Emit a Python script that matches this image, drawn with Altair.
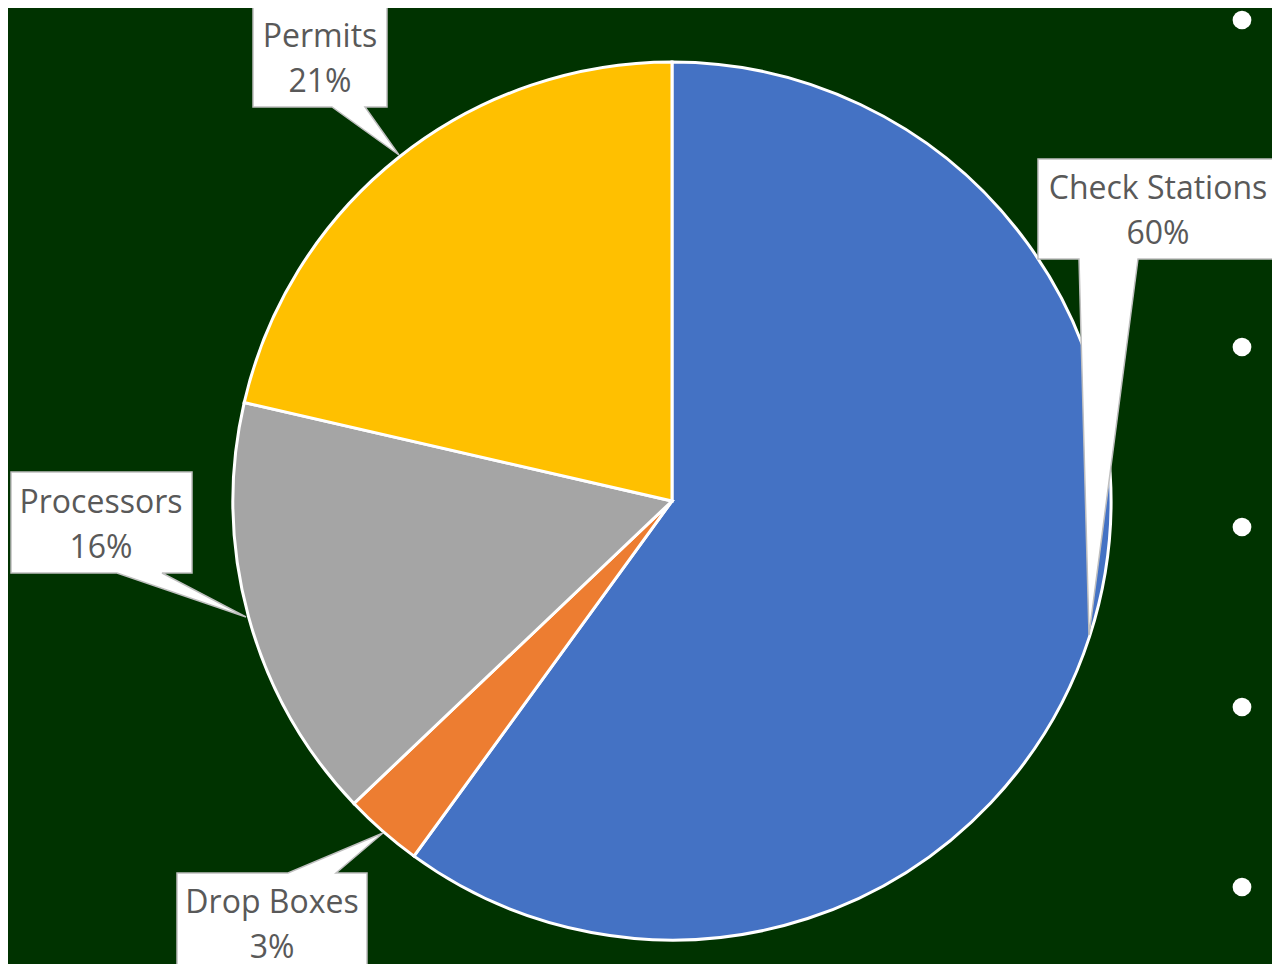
import altair as alt
import pandas as pd

# ---- data ----
categories = ["Check Stations", "Drop Boxes", "Processors", "Permits"]
values = [60.0, 2.9, 15.7, 21.4]
colors = ["#4472C4", "#ED7D31", "#A5A5A5", "#FFC000"]

# ---- layout (page pixel coordinates, chart starts at 8px page margin) ----
OFF = 8
W, H = 1264, 956
CX, CY, R = 672, 501, 439

# label anchor (center x, first baseline y) per category
label_pos = {
    "Check Stations": (1158, 199),
    "Drop Boxes": (272, 913),
    "Processors": (101, 513),
    "Permits": (320, 47),
}
# callout outline vertices per category
callouts = {
    "Check Stations": [(1038, 159), (1279, 159), (1279, 259), (1138, 259), (1089, 635), (1079, 259), (1038, 259)],
    "Drop Boxes": [(177, 873), (288, 873), (383, 833), (336, 873), (367, 873), (367, 990), (177, 990)],
    "Processors": [(11, 472), (192, 472), (192, 573), (162, 573), (246, 617), (117, 573), (11, 573)],
    "Permits": [(253, 6), (387, 6), (387, 107), (365, 107), (399, 155), (332, 107), (253, 107)],
}
bullet_y = [20, 347, 527, 707, 887]
bullet_x = 1242

pie_df = pd.DataFrame({"category": categories, "value": values, "idx": range(len(categories))})

poly_rows = []
for cat, pts in callouts.items():
    for i, (px, py) in enumerate(pts):
        poly_rows.append({"category": cat, "i": i, "x": px - OFF, "y": py - OFF})
poly_df = pd.DataFrame(poly_rows)

lab_rows = []
for cat, v in zip(categories, values):
    lx, ly = label_pos[cat]
    lab_rows.append({"category": cat, "x": lx - OFF, "y": ly - OFF, "label": f"{cat}\n{round(v)}%"})
lab_df = pd.DataFrame(lab_rows)

dot_df = pd.DataFrame({"x": [bullet_x - OFF] * len(bullet_y), "y": [b - OFF for b in bullet_y]})

pie = alt.Chart(pie_df).mark_arc(outerRadius=R, stroke="white", strokeWidth=3).encode(
    theta=alt.Theta("value:Q", stack=True),
    order=alt.Order("idx:Q"),
    color=alt.Color("category:N", scale=alt.Scale(domain=categories, range=colors), legend=None),
    x=alt.value(CX - OFF),
    y=alt.value(CY - OFF),
)

boxes = alt.Chart(poly_df).mark_line(
    filled=True, fill="white", stroke="#BFBFBF", strokeWidth=1.5, interpolate="linear-closed"
).encode(
    x=alt.X("x:Q", scale=None, axis=None),
    y=alt.Y("y:Q", scale=None, axis=None),
    order=alt.Order("i:Q"),
    detail="category:N",
)

labels = alt.Chart(lab_df).mark_text(
    font="Open Sans", fontSize=32, color="#595959", align="center", baseline="alphabetic",
    lineBreak="\n", lineHeight=45,
).encode(
    x=alt.X("x:Q", scale=None, axis=None),
    y=alt.Y("y:Q", scale=None, axis=None),
    text="label:N",
)

dots = alt.Chart(dot_df).mark_circle(size=350, color="white", opacity=1).encode(
    x=alt.X("x:Q", scale=None, axis=None),
    y=alt.Y("y:Q", scale=None, axis=None),
)

chart = alt.layer(pie, boxes, labels, dots).properties(
    width=W, height=H, background="#003300", padding=0,
    autosize=alt.AutoSizeParams(type="none"),
).configure_view(stroke=None)

chart.save("out.html", embed_options={"renderer": "svg", "actions": False})
